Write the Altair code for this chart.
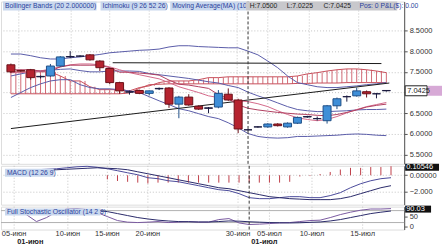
import altair as alt
import pandas as pd

# ---------------- data ----------------
opens  = [7.67,7.53,7.55,7.38,7.40,7.64,7.86,7.88,7.91,7.76,7.58,7.24,7.02,7.05,6.98,7.09,7.11,6.72,6.89,6.67,6.62,6.65,6.96,6.82,6.10,6.17,6.17,6.24,6.17,6.26,6.42,6.37,6.32,6.68,6.90,6.92,7.02,6.97,7.05]
highs  = [7.70,7.55,7.57,7.41,7.69,7.88,8.00,7.90,7.93,7.78,7.60,7.26,7.05,7.07,7.05,7.12,7.13,6.92,6.96,6.69,6.65,7.06,7.10,6.85,6.12,6.19,6.26,6.26,6.28,6.42,6.44,6.42,6.70,6.88,6.93,7.12,7.05,6.99,7.05]
lows   = [7.47,7.50,7.31,7.34,7.38,7.62,7.83,7.86,7.77,7.52,7.20,6.97,6.95,6.96,6.93,7.06,6.63,6.38,6.68,6.58,6.50,6.62,6.80,6.02,6.07,6.15,6.15,6.18,6.15,6.24,6.39,6.32,6.25,6.60,6.78,6.90,6.88,6.86,7.0225]
closes = [7.50,7.52,7.36,7.39,7.64,7.86,7.87,7.88,7.79,7.60,7.24,7.04,7.01,6.98,7.04,7.10,6.72,6.89,6.70,6.60,6.63,6.98,6.82,6.12,6.10,6.17,6.24,6.20,6.26,6.40,6.41,6.37,6.68,6.85,6.90,7.04,6.97,6.97,7.0425]

bb_up  = [7.93,7.93,7.89,7.84,7.81,7.81,7.84,7.86,7.89,7.92,7.96,7.98,8.00,8.02,8.03,8.05,8.10,8.13,8.13,8.11,8.10,8.09,8.08,8.08,8.00,7.91,7.76,7.60,7.40,7.24,7.19,7.14,7.12,7.12,7.14,7.16,7.19,7.21,7.24]
bb_mid = [7.40,7.45,7.50,7.52,7.54,7.56,7.57,7.53,7.50,7.50,7.52,7.52,7.52,7.51,7.46,7.43,7.40,7.37,7.34,7.30,7.26,7.23,7.17,7.12,7.01,6.92,6.84,6.75,6.66,6.59,6.56,6.54,6.54,6.55,6.56,6.58,6.59,6.59,6.60]
bb_lo  = [6.88,7.00,7.12,7.21,7.28,7.31,7.31,7.19,7.12,7.09,7.09,7.07,7.04,7.00,6.90,6.80,6.71,6.61,6.56,6.49,6.42,6.37,6.27,6.15,6.01,5.94,5.91,5.90,5.91,5.94,5.94,5.95,5.96,5.97,5.99,6.00,5.99,5.97,5.96]
ma10   = [7.48,7.48,7.50,7.52,7.57,7.62,7.67,7.69,7.69,7.67,7.62,7.55,7.48,7.43,7.38,7.33,7.24,7.14,7.07,7.00,6.92,6.88,6.83,6.80,6.78,6.73,6.66,6.56,6.47,6.39,6.35,6.32,6.35,6.42,6.51,6.59,6.66,6.71,6.76]
tenkan = [7.55,7.55,7.55,7.52,7.52,7.62,7.66,7.66,7.66,7.66,7.60,7.49,7.49,7.47,7.45,7.42,7.30,7.20,7.18,7.14,7.10,6.95,6.85,6.70,6.62,6.58,6.55,6.52,6.50,6.48,6.47,6.45,6.44,6.47,6.52,6.58,6.65,6.69,6.72]
cloud_a = [7.50,7.50,7.50,7.50,7.50,7.40,7.28,7.28,7.14,7.07,7.07,7.07,7.04,7.12,7.16,7.24,7.28,7.28,7.28,7.31,7.36,7.36,7.38,7.38,7.38,7.38,7.38,7.38,7.38,7.40,7.45,7.48,7.52,7.55,7.57,7.57,7.55,7.52,7.48]
cloud_b = [6.97,6.97,6.97,6.97,6.97,6.97,6.97,6.97,6.97,6.97,6.97,6.97,6.99,7.10,7.19,7.20,7.21,7.21,7.21,7.21,7.21,7.21,7.21,7.21,7.21,7.21,7.21,7.21,7.21,7.22,7.22,7.23,7.23,7.23,7.24,7.24,7.24,7.24,7.24]
trend_rise_i = [0, 38.3]
trend_rise_v = [6.13, 7.23]
trend_flat_i = [10.3, 37.5]
trend_flat_v = [7.72, 7.70]

macd_line = [0.67,0.67,0.67,0.67,0.73,0.79,0.91,1.03,1.09,0.97,0.79,0.55,0.30,0.06,-0.30,-0.42,-0.67,-0.79,-1.03,-1.27,-1.52,-1.76,-1.88,-2.24,-2.73,-2.85,-2.85,-2.73,-2.61,-2.61,-2.73,-2.73,-2.48,-2.12,-1.52,-1.03,-0.67,-0.42,-0.30]
macd_sig  = [0.55,0.55,0.55,0.55,0.61,0.67,0.73,0.79,0.85,0.91,0.85,0.79,0.67,0.42,0.18,-0.06,-0.30,-0.55,-0.79,-1.03,-1.27,-1.52,-1.64,-1.88,-2.12,-2.36,-2.61,-2.73,-2.85,-2.91,-2.97,-2.97,-2.97,-2.85,-2.61,-2.24,-1.88,-1.52,-1.27]
macd_hist = [0,0,0,0,0,0,0,0,0,0,-0.5,-0.7,-0.8,-0.9,-1.0,-0.9,-0.9,-0.9,-0.9,-0.9,-0.9,-0.9,-0.9,-0.9,-0.9,-0.9,-0.9,-0.9,-0.8,-0.15,-0.1,0.15,0.4,0.7,0.9,0.9,1.0,1.0,1.1]

stoch_k = [88,85,60,25,45,75,88,90,85,70,50,30,22,20,22,25,20,22,25,22,22,35,40,18,10,12,15,18,20,25,30,32,45,60,72,82,88,88,90]
stoch_d = [85,85,80,70,62,60,65,72,78,80,75,65,55,45,38,32,28,25,24,23,23,25,28,27,24,22,20,19,18,19,21,23,28,35,45,55,65,72,78]

xlab_pos = [0.8, 6.1, 10.0, 14.0, 22.9, 26.0, 30.2, 35.2]
xlab_txt = ["05-июн", "10-июн", "15-июн", "20-июн", "30-июн", "05-июл", "10-июл", "15-июл"]
month_pos = [1.1, 24.2]
month_txt = ["01-июн", "01-июл"]
cross_i = [24]
last_price = [7.0425]
macd_last = ["0.10546"]
stoch_last = ["90.03"]
hdr_items = ["Bollinger Bands (20 2.000000)", "Ichimoku (9 26 52 26)", "Moving Average(MA) (10)"]
hdr_hlc = ["H:7.0500", "L:7.0225", "C:7.0425"]
hdr_pos = "Pos: 0 P&L($): 0.00"

# ---------------- layout ----------------
N = len(closes)
idx = list(range(N))
W = 405
H1, H2, H3 = 163, 39, 23
FONT = "Liberation Sans"
GRID = "#c4c4c4"
BBC = "#5a5ca8"
PINK = "#d46a8a"
CLOUD = "#c8505c"
LBLUE = "#c9d8ee"
HBLUE = "#2b3f9c"

xs = alt.Scale(domain=[-0.5, 39.3], nice=False, zero=False)

def X(field="i"):
    return alt.X(f"{field}:Q", scale=xs, axis=None)

def yaxis(values, expr=None, grid=True):
    kw = dict(orient="right", values=values, grid=grid, gridDash=[1, 2], gridColor=GRID,
              tickSize=3, labelFont=FONT, labelFontSize=7.5, labelColor="#333",
              domainColor="#555", tickColor="#555", title=None, labelPadding=2)
    if expr:
        kw["labelExpr"] = expr
    return alt.Axis(**kw)

ysc1 = alt.Scale(domain=[5.279, 9.197], nice=False, zero=False)
yax1 = yaxis([5.5, 6.0, 6.5, 7.0, 7.5, 8.0, 8.5], "datum.value == 7 ? '' : format(datum.value, '.4f')")

def Y1(field):
    return alt.Y(f"{field}:Q", scale=ysc1, axis=yax1)

def box(x1, x2, y1, y2, fill):
    return alt.Chart(pd.DataFrame({"k": [0]})).mark_rect(fill=fill).encode(
        x=alt.value(x1), x2=alt.value(x2), y=alt.value(y1), y2=alt.value(y2))

def label(txt, x, y, color, size=6.8, weight="normal"):
    return alt.Chart(pd.DataFrame({"t": [txt]})).mark_text(
        align="left", baseline="middle", font=FONT, fontSize=size, color=color, fontWeight=weight
    ).encode(x=alt.value(x), y=alt.value(y), text="t:N")

xgrid_df = pd.DataFrame({"i": xlab_pos})
cross_df = pd.DataFrame({"i": cross_i})

def xgrid():
    return alt.Chart(xgrid_df).mark_rule(color=GRID, strokeDash=[1, 2], strokeWidth=1).encode(x=X())

def cross():
    return alt.Chart(cross_df).mark_rule(color="#333", strokeDash=[3, 2], strokeWidth=1).encode(x=X())

# ---------------- main panel ----------------
cd = pd.DataFrame({"i": idx, "o": opens, "h": highs, "l": lows, "c": closes})
cd["kind"] = ["up" if c > o + 0.01 else ("down" if c < o - 0.01 else "flat") for o, c in zip(opens, closes)]
ov = pd.DataFrame({"i": idx, "bb_up": bb_up, "bb_mid": bb_mid, "bb_lo": bb_lo, "ma10": ma10,
                   "tenkan": tenkan, "ca": cloud_a, "cb": cloud_b})
base = alt.Chart(ov)

hatch = base.mark_rule(color=CLOUD, strokeWidth=1, opacity=0.85).encode(x=X(), y=Y1("ca"), y2="cb")
hatch2 = base.transform_filter(f"datum.i < {N - 1}").transform_calculate(ih="datum.i + 0.5").mark_rule(
    color=CLOUD, strokeWidth=1, opacity=0.85).encode(x=X("ih"), y=Y1("ca"), y2="cb")
ca_line = base.mark_line(color=CLOUD, strokeWidth=1).encode(x=X(), y=Y1("ca"))
cb_line = base.mark_line(color=CLOUD, strokeWidth=1).encode(x=X(), y=Y1("cb"))
bbu = base.mark_line(color=BBC, strokeWidth=1).encode(x=X(), y=Y1("bb_up"))
bbm = base.mark_line(color=BBC, strokeWidth=1).encode(x=X(), y=Y1("bb_mid"))
bbl = base.mark_line(color=BBC, strokeWidth=1).encode(x=X(), y=Y1("bb_lo"))
mal = base.mark_line(color=PINK, strokeWidth=1).encode(x=X(), y=Y1("ma10"))
tkl = base.mark_line(color="#b04060", strokeWidth=1).encode(x=X(), y=Y1("tenkan"))

tr1 = alt.Chart(pd.DataFrame({"i": trend_rise_i, "v": trend_rise_v})).mark_line(
    color="#1a1a1a", strokeWidth=1).encode(x=X(), y=Y1("v"))
tr2 = alt.Chart(pd.DataFrame({"i": trend_flat_i, "v": trend_flat_v})).mark_line(
    color="#1a1a1a", strokeWidth=1).encode(x=X(), y=Y1("v"))

kind_fill = alt.Scale(domain=["up", "down", "flat"], range=["#3f8fd8", "#b5232f", "#2a2a50"])
kind_stroke = alt.Scale(domain=["up", "down", "flat"], range=["#1f4f86", "#6a1018", "#1a1a40"])
cbase = alt.Chart(cd)
wick = cbase.mark_rule(strokeWidth=1).encode(
    x=X(), y=Y1("l"), y2="h", color=alt.Color("kind:N", scale=kind_stroke, legend=None))
body = cbase.mark_bar(size=8, strokeWidth=1).encode(
    x=X(), y=Y1("o"), y2="c",
    fill=alt.Fill("kind:N", scale=kind_fill, legend=None),
    stroke=alt.Stroke("kind:N", scale=kind_stroke, legend=None))

hdr = [
    box(2, 96, 0, 9, LBLUE), label(hdr_items[0], 4, 4.5, HBLUE),
    box(100, 166, 0, 9, LBLUE), label(hdr_items[1], 102, 4.5, HBLUE),
    box(170, 246, 0, 9, LBLUE), label(hdr_items[2], 172, 4.5, HBLUE),
    box(246, 398, 0, 9, "#c8c8cc"),
    label(hdr_hlc[0], 250, 4.5, "#222"), label(hdr_hlc[1], 287, 4.5, "#222"),
    label(hdr_hlc[2], 324, 4.5, "#222"), label(hdr_pos, 360, 4.5, HBLUE),
]

price_df = pd.DataFrame({"v": last_price, "t": [f"{last_price[0]:.4f}"]})
pbox = alt.Chart(price_df).mark_rect(fill="white", stroke="#222", strokeWidth=1, height=10).encode(
    x=alt.value(406), x2=alt.value(428), y=Y1("v"))
pblk = alt.Chart(price_df).mark_rect(fill="#d7a9d6", height=10).encode(
    x=alt.value(429), x2=alt.value(443), y=Y1("v"))
ptxt = alt.Chart(price_df).mark_text(align="left", baseline="middle", font=FONT, fontSize=7.5,
                                     color="#222").encode(x=alt.value(408), y=Y1("v"), text="t:N")

main = alt.layer(xgrid(), hatch, hatch2, ca_line, cb_line, bbu, bbm, bbl, tr1, tr2, mal, tkl,
                 wick, body, cross(), *hdr, pbox, pblk, ptxt).properties(width=W, height=H1)

# ---------------- MACD ----------------
ysc2 = alt.Scale(domain=[-3.58, 1.15], nice=False, zero=False)
yax2 = yaxis([0, -2], "datum.value == 0 ? '0.00000' : format(datum.value, '.3f')")

def Y2(field):
    return alt.Y(f"{field}:Q", scale=ysc2, axis=yax2)

md = pd.DataFrame({"i": idx, "m": macd_line, "s": macd_sig, "h": macd_hist, "z": [0] * N})
mb = alt.Chart(md)
hist = mb.mark_rule(color="#c0404a", strokeWidth=1).encode(x=X(), y=Y2("z"), y2="h")
mline = mb.mark_line(color="#4a4a9a", strokeWidth=1).encode(x=X(), y=Y2("m"))
sline = mb.mark_line(color="#2a2a6a", strokeWidth=1).encode(x=X(), y=Y2("s"))
macd_lab = [box(4, 53, 3, 11, LBLUE), label("MACD (12 26 9)", 6, 7, HBLUE)]
macd_tag = [box(406, 440, -2, 5, "#111"), label(macd_last[0], 407, 1.5, "white", size=7.5)]
macd = alt.layer(xgrid(), hist, mline, sline, cross(), *macd_lab, *macd_tag).properties(width=W, height=H2)

# ---------------- Stochastic ----------------
ysc3 = alt.Scale(domain=[-15, 100], nice=False, zero=False)
yax3 = yaxis([0, 50], grid=False)

def Y3(field):
    return alt.Y(f"{field}:Q", scale=ysc3, axis=yax3)

sd = pd.DataFrame({"i": idx, "k": stoch_k, "d": stoch_d})
sb = alt.Chart(sd)
lev = alt.Chart(pd.DataFrame({"lv": [20, 80]})).mark_rule(color="#b0b0b0", strokeWidth=1).encode(y=Y3("lv"))
kline = sb.mark_line(color="#7a5aa0", strokeWidth=1).encode(x=X(), y=Y3("k"))
dline = sb.mark_line(color="#2a2a6a", strokeWidth=1).encode(x=X(), y=Y3("d"))
st_lab = [box(4, 100, 2, 9, LBLUE), label("Full Stochastic Oscillator (14 2 8)", 6, 5.5, HBLUE)]
st_tag = [box(406, 432, -1, 6, "#111"), label(stoch_last[0], 407, 2.5, "white", size=7.5)]
xl = alt.Chart(pd.DataFrame({"i": xlab_pos, "t": xlab_txt})).mark_text(
    align="center", baseline="middle", font=FONT, fontSize=7.5, color="#333"
).encode(x=X(), y=alt.value(H3 + 5), text="t:N")
mon = alt.Chart(pd.DataFrame({"i": month_pos, "t": month_txt})).mark_text(
    align="left", baseline="middle", font=FONT, fontSize=7.5, fontWeight="bold", color="#222"
).encode(x=X(), y=alt.value(H3 + 13), text="t:N")
stoch = alt.layer(xgrid(), lev, kline, dline, cross(), *st_lab, *st_tag, xl, mon).properties(width=W, height=H3)

chart = alt.vconcat(main, macd, stoch, spacing=2, bounds="flush").properties(padding=0).configure_view(
    stroke="#9a9a9a", strokeWidth=1).configure(font=FONT)

chart.save("out.html", embed_options={"renderer": "svg", "actions": False})
